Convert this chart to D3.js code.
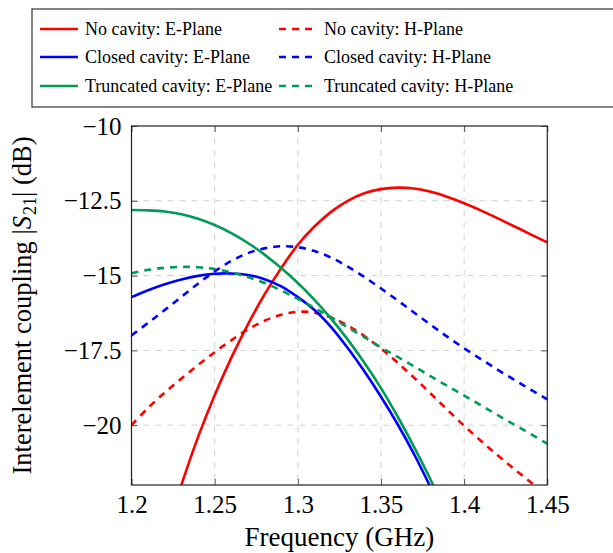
<!DOCTYPE html>
<html><head><meta charset="utf-8">
<script src="https://cdn.jsdelivr.net/npm/d3@7"></script>
<style>body{margin:0;background:#fff;}svg{display:block;}</style>
</head><body>
<svg id="c" width="613" height="553"></svg>
<script>
const freq = [1.20,1.21,1.22,1.23,1.24,1.25,1.26,1.27,1.28,1.29,1.30,1.31,1.32,1.33,1.34,1.35,1.36,1.37,1.38,1.39,1.40,1.41,1.42,1.43,1.44,1.45];
const noCavE = [null,null,-23.8,-22.0,-20.4,-19.0,-17.75,-16.63,-15.63,-14.75,-13.97,-13.36,-12.87,-12.5,-12.25,-12.11,-12.06,-12.09,-12.2,-12.37,-12.58,-12.82,-13.08,-13.35,-13.62,-13.89];
const noCavH = [-20.0,-19.42,-18.91,-18.44,-17.99,-17.56,-17.16,-16.8,-16.51,-16.31,-16.21,-16.24,-16.4,-16.67,-17.02,-17.44,-17.91,-18.42,-18.95,-19.49,-20.02,-20.52,-21.0,-21.46,-21.91,-22.36];
const closedE = [-15.72,-15.49,-15.29,-15.13,-15.01,-14.94,-14.93,-14.98,-15.12,-15.36,-15.72,-16.15,-16.72,-17.42,-18.2,-19.05,-19.97,-20.98,-22.1,null,null,null,null,null,null,null];
const closedH = [-17.0,-16.58,-16.15,-15.71,-15.27,-14.86,-14.51,-14.25,-14.09,-14.02,-14.05,-14.18,-14.4,-14.7,-15.05,-15.43,-15.83,-16.24,-16.65,-17.05,-17.43,-17.79,-18.14,-18.48,-18.81,-19.14];
const truncE = [-12.81,-12.82,-12.86,-12.95,-13.1,-13.31,-13.58,-13.91,-14.3,-14.75,-15.25,-15.81,-16.44,-17.14,-17.91,-18.76,-19.71,-20.74,-21.84,-23.04,null,null,null,null,null,null];
const truncH = [-14.92,-14.81,-14.74,-14.71,-14.72,-14.78,-14.89,-15.05,-15.25,-15.5,-15.78,-16.08,-16.4,-16.73,-17.06,-17.4,-17.72,-18.04,-18.37,-18.69,-19.01,-19.33,-19.66,-19.98,-20.3,-20.62];
const xTicks = [1.2,1.25,1.3,1.35,1.4,1.45];
const yTicks = [-10,-12.5,-15,-17.5,-20];
const seriesNames = ["No cavity: E-Plane","No cavity: H-Plane","Closed cavity: E-Plane","Closed cavity: H-Plane","Truncated cavity: E-Plane","Truncated cavity: H-Plane"];

const RED="#ff0000", BLUE="#0000ff", GREEN="#009b55";
const series = [
  {name:seriesNames[0], vals:noCavE, color:RED, dash:null},
  {name:seriesNames[1], vals:noCavH, color:RED, dash:"7,6"},
  {name:seriesNames[2], vals:closedE, color:BLUE, dash:null},
  {name:seriesNames[3], vals:closedH, color:BLUE, dash:"7,6"},
  {name:seriesNames[4], vals:truncE, color:GREEN, dash:null},
  {name:seriesNames[5], vals:truncH, color:GREEN, dash:"7,6"}
];

const svg = d3.select("#c");
const L=131.5, R=547.3, T=126, B=485;
const x = d3.scaleLinear().domain([1.2,1.45]).range([L,R]);
const y = d3.scaleLinear().domain([-22,-10]).range([B,T]);
const FONT = '"Liberation Serif"';

svg.append("defs").append("clipPath").attr("id","clip")
  .append("rect").attr("x",L).attr("y",T).attr("width",R-L).attr("height",B-T);

// grid
const g = svg.append("g");
g.selectAll(".vg").data(xTicks.slice(1,-1)).enter().append("line")
  .attr("x1",d=>x(d)).attr("x2",d=>x(d)).attr("y1",T).attr("y2",B)
  .attr("stroke","#d0d0d0").attr("stroke-width",1).attr("stroke-dasharray","6,6");
g.selectAll(".hg").data(yTicks.slice(1)).enter().append("line")
  .attr("y1",d=>y(d)).attr("y2",d=>y(d)).attr("x1",L).attr("x2",R)
  .attr("stroke","#d0d0d0").attr("stroke-width",1).attr("stroke-dasharray","6,6");

// axes with inward ticks
const axB = d3.axisBottom(x).tickValues(xTicks).tickSize(-6).tickPadding(10).tickFormat(d=>d3.format("")(d));
const axT = d3.axisTop(x).tickValues(xTicks).tickSize(-6).tickFormat("");
const axL = d3.axisLeft(y).tickValues(yTicks).tickSize(-6).tickPadding(10).tickFormat(d=>String(d).replace("-","\u2212"));
const axR = d3.axisRight(y).tickValues(yTicks).tickSize(-6).tickFormat("");
function styleAx(sel){
  sel.attr("font-family",null).attr("font-size",null);
  sel.select(".domain").remove();
  sel.selectAll(".tick line").attr("stroke","#555").attr("stroke-width",1);
  sel.selectAll("text").style("font-family",FONT).style("font-size","25px").attr("fill","#000");
}
svg.append("g").attr("transform",`translate(0,${B})`).call(axB).call(styleAx);
svg.append("g").attr("transform",`translate(0,${T})`).call(axT).call(styleAx);
svg.append("g").attr("transform",`translate(${L},0)`).call(axL).call(styleAx);
svg.append("g").attr("transform",`translate(${R},0)`).call(axR).call(styleAx);

// lines
const line = d3.line().defined(d=>d[1]!==null).x(d=>x(d[0])).y(d=>y(d[1])).curve(d3.curveCatmullRom.alpha(0.5));
const lg = svg.append("g").attr("clip-path","url(#clip)");
series.forEach(s=>{
  lg.append("path").datum(freq.map((f,i)=>[f,s.vals[i]]))
    .attr("d",line).attr("fill","none").attr("stroke",s.color).attr("stroke-width",2.6)
    .attr("stroke-dasharray",s.dash);
});

// frame
svg.append("rect").attr("x",L).attr("y",T).attr("width",R-L).attr("height",B-T)
  .attr("fill","none").attr("stroke","#222").attr("stroke-width",1.2);

// axis labels
svg.append("text").attr("x",(L+R)/2).attr("y",546).attr("text-anchor","middle")
  .style("font-family",FONT).style("font-size","27px").text("Frequency (GHz)");
const yl = svg.append("text").attr("transform",`translate(31,${(T+B)/2}) rotate(-90)`)
  .attr("text-anchor","middle").style("font-family",FONT).style("font-size","26.5px");
yl.append("tspan").text("Interelement coupling |");
yl.append("tspan").style("font-style","italic").text("S");
yl.append("tspan").style("font-size","18px").attr("dy","5").attr("dx","1").text("21");
yl.append("tspan").attr("dy","-5").text("| (dB)");

// legend
const leg = svg.append("g");
leg.append("rect").attr("x",32).attr("y",9).attr("width",600).attr("height",98)
  .attr("fill","#fff").attr("stroke","#333").attr("stroke-width",1.2);
const rowsY=[29,57,86];
series.forEach((s,i)=>{
  const col = i%2, row = Math.floor(i/2);
  const lx = col===0 ? 40 : 279, tx = col===0 ? 85 : 324;
  leg.append("line").attr("x1",lx).attr("x2",lx+(col===0?38:36)).attr("y1",rowsY[row]).attr("y2",rowsY[row])
    .attr("stroke",s.color).attr("stroke-width",2.6).attr("stroke-dasharray",s.dash);
  leg.append("text").attr("x",tx).attr("y",rowsY[row]+6).style("font-family",FONT)
    .style("font-size","18px").text(s.name);
});
</script>
</body></html>
